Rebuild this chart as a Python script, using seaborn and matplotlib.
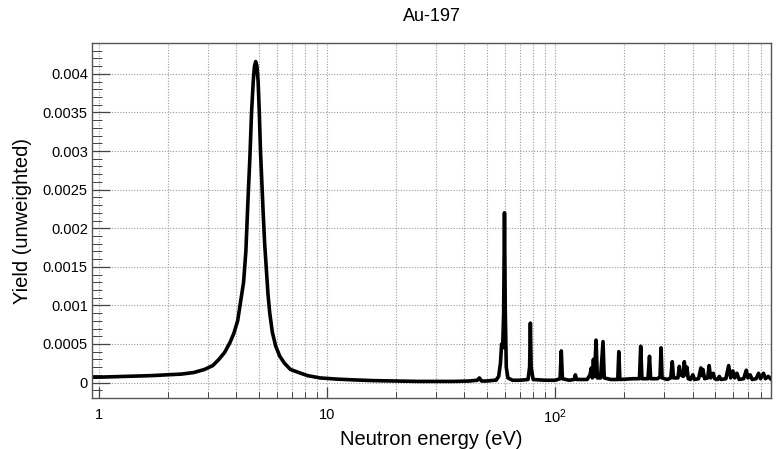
import numpy as np
import pandas as pd
import matplotlib
matplotlib.use("Agg")
import matplotlib.pyplot as plt
import matplotlib.ticker as mticker
import seaborn as sns

# ---- data ----
energy_low = [0.93, 1.0, 1.3, 1.7, 2.0, 2.3, 2.6, 2.9, 3.15, 3.35, 3.55, 3.75, 3.9,
              4.05, 4.2, 4.3, 4.4, 4.5, 4.58, 4.66, 4.74, 4.8, 4.86, 4.92, 4.98,
              5.04, 5.1, 5.17, 5.24, 5.32, 5.4, 5.5, 5.6, 5.75, 5.95, 6.2, 6.5,
              6.9, 7.5, 8.2, 9.3, 11, 13, 16, 20, 25, 30, 36, 42, 45.5, 46.5,
              47.5, 50, 54]
yield_low = [0.00007, 0.00007, 0.00008, 0.00009, 0.0001, 0.00011, 0.00013, 0.00017,
             0.00022, 0.0003, 0.00039, 0.00052, 0.00064, 0.0008, 0.0011, 0.0013,
             0.0017, 0.0024, 0.0029, 0.0035, 0.0039, 0.0041, 0.00416, 0.0041,
             0.0039, 0.0035, 0.0030, 0.0026, 0.0022, 0.0018, 0.0015, 0.00115,
             0.0009, 0.00065, 0.00047, 0.00034, 0.00025, 0.00017, 0.00013,
             0.00009, 0.00006, 0.000045, 0.000035, 0.000025, 0.00002, 0.000015,
             0.000015, 0.000015, 0.00002, 0.00003, 0.00006, 0.00002, 0.00002,
             0.00003]

energy_high = [55, 56.5, 57.5, 58.2, 58.8, 59.4, 59.9, 60.4, 61.0, 62.0, 65, 70,
               76, 77.2, 77.8, 78.4, 80, 90, 100, 105, 106.3, 107.5, 115, 121,
               122.5, 124, 138, 142, 144, 145.5, 147, 148.5, 151, 153, 158, 162,
               164, 175, 188, 190, 192, 220, 234, 237, 240, 255, 259, 262, 280,
               288, 291, 294, 310, 321, 326, 330, 345, 350, 355, 364, 368, 373,
               378, 383, 392, 401, 408, 425, 435, 440, 444, 452, 466, 473, 480,
               493, 500, 515, 524, 533, 560, 576, 588, 601, 612, 626, 640, 670,
               688, 700, 716, 730, 760, 779, 795, 819, 835, 859, 885]
yield_high = [0.00003, 0.00008, 0.00025, 0.0005, 0.00045, 0.0009, 0.0022, 0.0009,
              0.0002, 0.00006, 0.00003, 0.00003, 0.00004, 0.0002, 0.00077, 0.0002,
              0.00004, 0.00003, 0.00003, 0.00005, 0.00041, 0.00005, 0.00003,
              0.00004, 0.0001, 0.00004, 0.00004, 0.0001, 0.00019, 0.00006, 0.0003,
              0.00008, 0.00055, 0.00006, 0.00006, 0.00053, 0.00006, 0.00004,
              0.00004, 0.0004, 0.00004, 0.00005, 0.00005, 0.00047, 0.00005,
              0.00005, 0.00034, 0.00005, 0.00005, 0.00007, 0.00045, 0.00006,
              0.00004, 0.00006, 0.00027, 0.00006, 0.00006, 0.00021, 0.0001,
              0.00008, 0.00027, 0.0001, 0.0002, 0.00005, 0.00004, 0.0001, 0.00004,
              0.00005, 0.00019, 0.00009, 0.00017, 0.00005, 0.00006, 0.00022,
              0.00006, 0.00012, 0.00005, 0.00004, 0.00008, 0.00004, 0.00005,
              0.00022, 0.00006, 0.00015, 0.00006, 0.00012, 0.00004, 0.00005,
              0.00016, 0.00006, 0.0001, 0.00004, 0.00005, 0.00012, 0.00005,
              0.00012, 0.00005, 0.00008, 0.00004]

x_ticks = [1, 10, 100]
x_tick_labels = ["1", "10", r"$10^{2}$"]
y_ticks = [0, 0.0005, 0.001, 0.0015, 0.002, 0.0025, 0.003, 0.0035, 0.004]
y_tick_labels = ["0", "0.0005", "0.001", "0.0015", "0.002", "0.0025", "0.003",
                 "0.0035", "0.004"]

df = pd.DataFrame({
    "energy": energy_low + energy_high,
    "yield": yield_low + yield_high,
})

sns.set_theme(style="white")
plt.rcParams["font.family"] = ["Liberation Sans", "DejaVu Sans"]
plt.rcParams["mathtext.fontset"] = "custom"
plt.rcParams["mathtext.rm"] = "Liberation Sans"
plt.rcParams["mathtext.it"] = "Liberation Sans:italic"
plt.rcParams["text.color"] = "black"
plt.rcParams["axes.labelcolor"] = "black"

fig = plt.figure(figsize=(7.79, 4.49), dpi=100)
ax = fig.add_axes([0.118, 0.1136, 0.872, 0.7906])

sns.lineplot(data=df, x="energy", y="yield", ax=ax, color="black",
             linewidth=2.6, estimator=None, sort=False,
             solid_joinstyle="round", solid_capstyle="round")

ax.set_xscale("log")
ax.set_xlim(0.93, 885)
ax.set_ylim(-0.0002, 0.0044)

ax.xaxis.set_major_locator(mticker.FixedLocator(x_ticks))
ax.xaxis.set_major_formatter(mticker.FixedFormatter(x_tick_labels))
ax.xaxis.set_minor_locator(mticker.LogLocator(base=10, subs=np.arange(2, 10)))
ax.xaxis.set_minor_formatter(mticker.NullFormatter())

ax.yaxis.set_major_locator(mticker.FixedLocator(y_ticks))
ax.yaxis.set_major_formatter(mticker.FixedFormatter(y_tick_labels))
ax.yaxis.set_minor_locator(mticker.MultipleLocator(0.0001))

ax.grid(True, which="major", axis="both", linestyle=(0, (1, 1.5)),
        color="#9a9a9a", linewidth=0.8)
ax.grid(True, which="minor", axis="x", linestyle=(0, (1, 1.5)),
        color="#9a9a9a", linewidth=0.8)
ax.set_axisbelow(True)

ax.tick_params(axis="both", which="both", direction="in", colors="#444444",
               labelcolor="black", top=False, right=False, bottom=True, left=True)
ax.tick_params(axis="y", which="major", length=13, width=0.9, labelsize=10.5, pad=3)
ax.tick_params(axis="y", which="minor", length=7, width=0.7)
ax.tick_params(axis="x", which="major", length=8, width=0.9, labelsize=10.5, pad=7)
ax.tick_params(axis="x", which="minor", length=4.5, width=0.7)

for s in ax.spines.values():
    s.set_visible(True)
    s.set_color("#555555")
    s.set_linewidth(1.0)

ax.set_xlabel("Neutron energy (eV)", fontsize=14.5, labelpad=3, color="black")
ax.set_ylabel("Yield (unweighted)", fontsize=14.5, labelpad=8, color="black")
ax.set_title("Au-197", fontsize=13, pad=16, color="black")

fig.savefig("out.png", dpi=100)
